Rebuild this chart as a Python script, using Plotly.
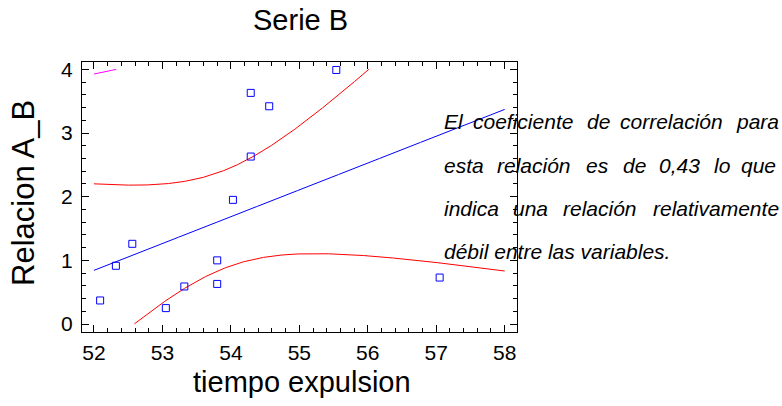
import numpy as np
import plotly.graph_objects as go

# Observations: tiempo expulsion vs Relacion A_B
tiempo = [52.09, 52.32, 52.56, 53.05, 53.32, 53.80, 53.80, 54.03, 54.29, 54.56, 54.29, 55.54, 57.05]
relacion = [0.37, 0.915, 1.26, 0.25, 0.59, 1.00, 0.63, 1.95, 3.63, 3.42, 2.63, 3.99, 0.73]

x_ticks = [52, 53, 54, 55, 56, 57, 58]
y_ticks = [0, 1, 2, 3, 4]

title_text = "Serie B"
x_title = "tiempo expulsion"
y_title = "Relacion A_B"

paragraph_lines = [
    ["El", "coeficiente", "de", "correlación", "para"],
    ["esta", "relación", "es", "de", "0,43", "lo", "que"],
    ["indica", "una", "relación", "relativamente"],
    ["débil entre las variables."],
]

# ---- simple linear regression with 95% limits ----
x = np.array(tiempo)
y = np.array(relacion)
n = len(x)
slope, intercept = np.polyfit(x, y, 1)
resid = y - (intercept + slope * x)
s = np.sqrt(np.sum(resid ** 2) / (n - 2))
sxx = np.sum((x - x.mean()) ** 2)
t95 = 2.201  # Student t, 0.975 quantile, 11 degrees of freedom

grid = np.linspace(52, 58, 1201)
fit = intercept + slope * grid
half_mean = t95 * s * np.sqrt(1 / n + (grid - x.mean()) ** 2 / sxx)
half_pred = t95 * s * np.sqrt(1 + 1 / n + (grid - x.mean()) ** 2 / sxx)


def clip(v, lo=0.0, hi=4.0):
    v = v.copy()
    v[(v < lo) | (v > hi)] = np.nan
    return v


fig = go.Figure()
line_font = "Liberation Sans, Arial, sans-serif"

fig.add_trace(go.Scatter(x=grid, y=clip(fit), mode="lines",
                         line=dict(color="#0000ff", width=1), hoverinfo="skip"))
fig.add_trace(go.Scatter(x=grid, y=clip(fit + half_mean), mode="lines",
                         line=dict(color="#ff0000", width=1), hoverinfo="skip"))
fig.add_trace(go.Scatter(x=grid, y=clip(fit - half_mean), mode="lines",
                         line=dict(color="#ff0000", width=1), hoverinfo="skip"))
fig.add_trace(go.Scatter(x=grid, y=clip(fit + half_pred), mode="lines",
                         line=dict(color="#ff00ff", width=1), hoverinfo="skip"))
fig.add_trace(go.Scatter(x=grid, y=clip(fit - half_pred), mode="lines",
                         line=dict(color="#ff00ff", width=1), hoverinfo="skip"))
fig.add_trace(go.Scatter(x=tiempo, y=relacion, mode="markers",
                         marker=dict(symbol="square-open", size=7,
                                     color="#0000ff", line=dict(width=1, color="#0000ff"))))

# plot-area geometry (pixels)
L, R, T, B = 82, 517, 62, 332
W, H = R - L, B - T


def px_x(p):
    return (p - L) / W


def px_y(p):
    return (B - p) / H


axis_common = dict(showline=True, linecolor="black", linewidth=1, mirror="ticks",
                   ticks="inside", ticklen=7, tickwidth=1, tickcolor="black",
                   showgrid=False, zeroline=False,
                   tickfont=dict(family=line_font, size=21, color="black"))

fig.update_xaxes(range=[51.825, 58.18], tickvals=x_ticks, ticklabelstandoff=2,
                 minor=dict(ticks="inside", dtick=0.2, tick0=52, ticklen=4,
                            tickcolor="black", showgrid=False),
                 **axis_common)
fig.update_yaxes(range=[-0.125, 4.115], tickvals=y_ticks, ticklabelstandoff=4,
                 minor=dict(ticks="inside", dtick=0.2, tick0=0, ticklen=4,
                            tickcolor="black", showgrid=False),
                 **axis_common)

annotations = [
    dict(text=title_text, x=px_x(300), y=px_y(20), xanchor="center", yanchor="middle",
         font=dict(family=line_font, size=29, color="black")),
    dict(text=x_title, x=px_x(302), y=px_y(382), xanchor="center", yanchor="middle",
         font=dict(family=line_font, size=29, color="black")),
    dict(text=y_title, x=px_x(23), y=px_y(193), xanchor="center", yanchor="middle",
         textangle=-90, font=dict(family=line_font, size=31, color="black")),
]

word_lefts = [
    [442.7, 471.7, 586, 619, 735],
    [442.7, 496, 585, 621.7, 658, 713, 740],
    [442.7, 511.7, 561.7, 651.7],
    [442.7],
]
baselines = [128.3, 172.7, 215, 258.3]
for words, lefts, base in zip(paragraph_lines, word_lefts, baselines):
    for w, lx in zip(words, lefts):
        annotations.append(dict(text="<i>" + w + "</i>", x=px_x(lx - 1), y=px_y(base - 7),
                                xanchor="left", yanchor="middle",
                                font=dict(family=line_font, size=21, color="black")))

for a in annotations:
    a.update(xref="paper", yref="paper", showarrow=False)

fig.update_layout(
    width=782, height=406,
    margin=dict(l=L, r=782 - R, t=T, b=406 - B),
    paper_bgcolor="white", plot_bgcolor="white",
    showlegend=False,
    annotations=annotations,
)

fig.write_html("out.html")
